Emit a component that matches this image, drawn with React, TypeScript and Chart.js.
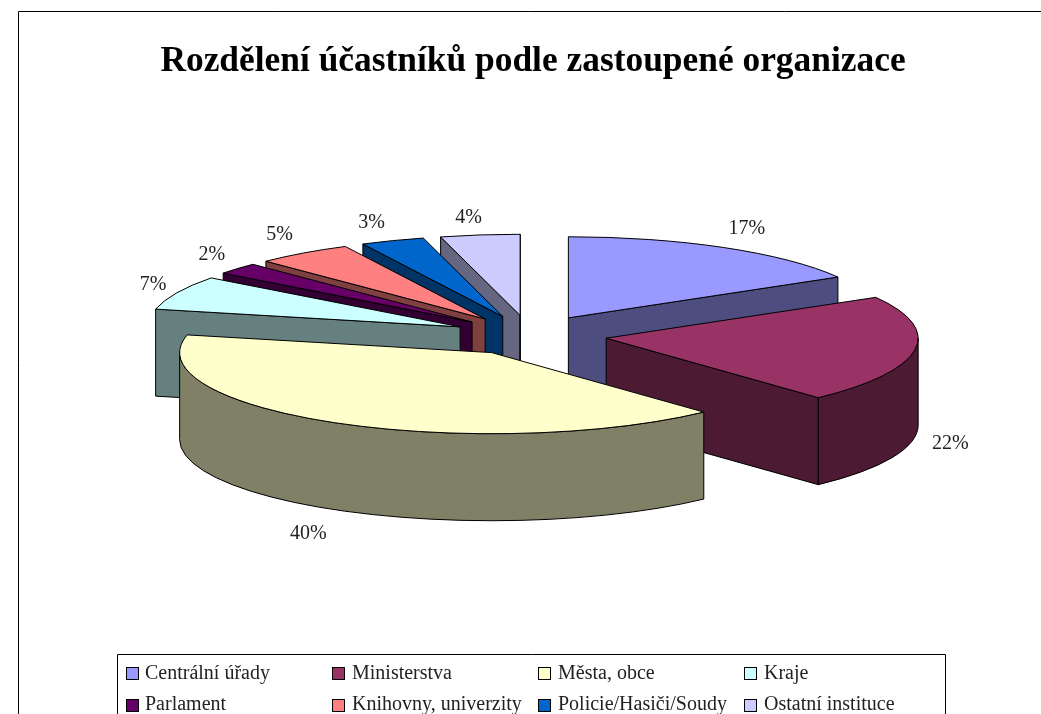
import React, { useEffect, useRef } from "react";
import { Chart, registerables } from "chart.js";

Chart.register(...registerables);

const categories = ["Centrální úřady", "Ministerstva", "Města, obce", "Kraje", "Parlament", "Knihovny, univerzity", "Policie/Hasiči/Soudy", "Ostatní instituce"];
const shares = [16.6, 21.5, 40.4, 6.8, 2.3, 5.0, 3.3, 4.1];
const topColors = ["#9999FF", "#993366", "#FFFFCC", "#CCFFFF", "#660066", "#FF8080", "#0066CC", "#CCCCFF"];
const wallColors = ["#4D4D80", "#4D1A33", "#808066", "#668080", "#330033", "#804040", "#003366", "#666680"];

const titleText = "Rozdělení účastníků podle zastoupené organizace";

// 3D look
const TILT = 0.26;
const DEPTH = 87;
const EXPLODE = 77;
const PIE_RADIUS = 312;
const SHIFT_X = -3;
const SERIF = "'Liberation Serif', serif";

// fine placement of the percent labels, by slice
const labelNudge = [[6, 2], [2, 3], [-11, 3], [7, 2], [0, 2], [-4, 1], [-9, 4], [-7, 6]];

// legend layout
const legendBox = { left: 117.5, top: 654.5, right: 945.5 };
const legendMarkerX = [126, 332, 538, 744];
const legendTextX = [145, 352, 558, 764];
const legendRowY = [673.5, 705];

const piePlugin = {
  id: "pie3d",
  beforeDatasetDraw(chart: any, args: any) {
    const ctx = chart.ctx;
    const arcs = args.meta.data as any[];
    const order = arcs.map((_, i) => i).sort((a, b) => {
      const ma = (arcs[a].startAngle + arcs[a].endAngle) / 2;
      const mb = (arcs[b].startAngle + arcs[b].endAngle) / 2;
      return Math.sin(ma) - Math.sin(mb);
    });
    ctx.save();
    ctx.lineWidth = 1;
    ctx.strokeStyle = "#000";
    ctx.lineJoin = "round";
    for (const i of order) {
      const el = arcs[i];
      const s = el.startAngle;
      const e = el.endAngle;
      const r = el.outerRadius;
      const mid = (s + e) / 2;
      const cx = el.x + SHIFT_X + Math.cos(mid) * EXPLODE;
      const cy = el.y + Math.sin(mid) * EXPLODE * TILT;
      const ry = r * TILT;
      const px = (a: number) => cx + Math.cos(a) * r;
      const py = (a: number) => cy + Math.sin(a) * ry;
      const wall = (a: number) => {
        ctx.beginPath();
        ctx.moveTo(cx, cy);
        ctx.lineTo(px(a), py(a));
        ctx.lineTo(px(a), py(a) + DEPTH);
        ctx.lineTo(cx, cy + DEPTH);
        ctx.closePath();
        ctx.fillStyle = wallColors[i];
        ctx.fill();
        ctx.stroke();
      };
      // side walls that face the viewer
      if (Math.cos(s) < 0) wall(s);
      if (Math.cos(e) > 0) wall(e);
      // curved outer wall on the front half
      const a1 = Math.max(s, 0);
      const a2 = Math.min(e, Math.PI);
      if (a2 > a1) {
        ctx.beginPath();
        ctx.ellipse(cx, cy, r, ry, 0, a1, a2);
        ctx.ellipse(cx, cy + DEPTH, r, ry, 0, a2, a1, true);
        ctx.closePath();
        ctx.fillStyle = wallColors[i];
        ctx.fill();
        ctx.stroke();
      }
      // top face: the library's own arc, squashed
      ctx.save();
      ctx.translate(cx, cy);
      ctx.scale(1, TILT);
      ctx.translate(-el.x, -el.y);
      el.draw(ctx);
      ctx.restore();
      ctx.beginPath();
      ctx.moveTo(cx, cy);
      ctx.ellipse(cx, cy, r, ry, 0, s, e);
      ctx.closePath();
      ctx.stroke();
    }
    ctx.restore();
    return false;
  },
  afterDatasetsDraw(chart: any) {
    const ctx = chart.ctx;
    const arcs = chart.getDatasetMeta(0).data as any[];
    ctx.save();
    // outer frame
    ctx.strokeStyle = "#000";
    ctx.lineWidth = 1;
    ctx.beginPath();
    ctx.moveTo(18.5, chart.height);
    ctx.lineTo(18.5, 11.5);
    ctx.lineTo(chart.width, 11.5);
    ctx.stroke();

    // percent labels
    ctx.font = `20px ${SERIF}`;
    ctx.fillStyle = "#222";
    ctx.textAlign = "center";
    ctx.textBaseline = "middle";
    arcs.forEach((el, i) => {
      const mid = (el.startAngle + el.endAngle) / 2;
      const reach = el.outerRadius + 71;
      const c = Math.cos(mid);
      const sn = Math.sin(mid);
      const x = el.x + SHIFT_X + c * (reach + 40) + labelNudge[i][0];
      const y = el.y + sn * reach * TILT + (sn > 0 ? DEPTH : 0) + sn * 25 + labelNudge[i][1];
      ctx.fillText(`${Math.round(shares[i])}%`, x, y);
    });

    // legend
    ctx.beginPath();
    ctx.moveTo(legendBox.left, chart.height);
    ctx.lineTo(legendBox.left, legendBox.top);
    ctx.lineTo(legendBox.right, legendBox.top);
    ctx.lineTo(legendBox.right, chart.height);
    ctx.stroke();
    ctx.textAlign = "left";
    categories.forEach((name, i) => {
      const col = i % 4;
      const row = Math.floor(i / 4);
      const y = legendRowY[row];
      ctx.fillStyle = topColors[i];
      ctx.fillRect(legendMarkerX[col] + 0.5, Math.round(y - 6.5) + 0.5, 12, 12);
      ctx.strokeRect(legendMarkerX[col] + 0.5, Math.round(y - 6.5) + 0.5, 12, 12);
      ctx.fillStyle = "#222";
      ctx.fillText(name, legendTextX[col], y);
    });
    ctx.restore();
  },
};

export default function App() {
  const ref = useRef<HTMLCanvasElement>(null);
  useEffect(() => {
    document.body.style.margin = "0";
    document.body.style.overflow = "hidden";
    const chart = new Chart(ref.current!, {
      type: "pie",
      data: {
        labels: categories,
        datasets: [{
          data: shares,
          backgroundColor: topColors,
          borderWidth: 0,
          radius: PIE_RADIUS,
        } as any],
      },
      options: {
        responsive: false,
        animation: false,
        layout: { padding: { left: 25, right: 0, top: 0, bottom: 134 } },
        plugins: {
          legend: { display: false },
          tooltip: { enabled: false },
          title: {
            display: true,
            text: titleText,
            color: "#000",
            font: { family: SERIF, size: 35.4, weight: "bold", lineHeight: 1.2 },
            padding: { top: 41, bottom: 7 },
          },
        },
      },
      plugins: [piePlugin],
    } as any);
    return () => chart.destroy();
  }, []);
  return <canvas ref={ref} width={1041} height={714} style={{ display: "block", background: "#fff" }} />;
}
